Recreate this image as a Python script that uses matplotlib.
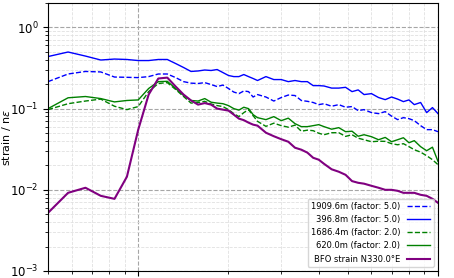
import matplotlib
matplotlib.use("Agg")
import matplotlib.pyplot as plt
import numpy as np

# frequency bins (k / 12) of the spectra
k = np.array([6, 7, 8, 9, 10, 11, 12, 13, 14, 15, 16, 17, 18, 19, 20, 21, 22, 23, 24,
              25, 26, 27, 28, 29, 30, 32, 34, 36, 38, 40, 42, 44, 46, 48, 50, 53, 56,
              59, 62, 65, 68, 72, 76, 80, 84, 88, 92, 96, 100, 105, 110, 115, 120])
freq = k / 12.0

s1909 = [0.215, 0.267, 0.287, 0.283, 0.245, 0.243, 0.241, 0.248, 0.267, 0.267,
         0.241, 0.215, 0.206, 0.204, 0.209, 0.198, 0.187, 0.195, 0.177, 0.160,
         0.153, 0.165, 0.162, 0.139, 0.149, 0.139, 0.124, 0.137, 0.147, 0.145,
         0.126, 0.123, 0.119, 0.112, 0.115, 0.107, 0.112, 0.104, 0.106, 0.0945,
         0.0972, 0.0893, 0.0868, 0.0918, 0.0808, 0.0732, 0.0774, 0.0753, 0.0711, 0.0617,
         0.0551, 0.0551, 0.0520]
s396 = [0.438, 0.498, 0.444, 0.397, 0.408, 0.403, 0.391, 0.391, 0.403, 0.403,
        0.359, 0.321, 0.287, 0.291, 0.299, 0.295, 0.303, 0.278, 0.256, 0.248,
        0.248, 0.263, 0.248, 0.235, 0.222, 0.248, 0.228, 0.228, 0.215, 0.222,
        0.215, 0.215, 0.192, 0.192, 0.190, 0.179, 0.179, 0.183, 0.162, 0.170,
        0.149, 0.153, 0.137, 0.129, 0.139, 0.131, 0.122, 0.128, 0.112, 0.119,
        0.0893, 0.103, 0.0868]
s1686 = [0.0972, 0.115, 0.124, 0.131, 0.107, 0.0972, 0.106, 0.162, 0.204, 0.209,
         0.172, 0.141, 0.117, 0.119, 0.123, 0.114, 0.109, 0.106, 0.0972, 0.0868,
         0.0797, 0.0893, 0.0972, 0.0820, 0.0697, 0.0605, 0.0662, 0.0617, 0.0591, 0.0626,
         0.0527, 0.0543, 0.0535, 0.0498, 0.0477, 0.0505, 0.0505, 0.0455, 0.0477, 0.0432,
         0.0414, 0.0391, 0.0397, 0.0395, 0.0370, 0.0359, 0.0370, 0.0340, 0.0312, 0.0291,
         0.0263, 0.0235, 0.0204]
s620 = [0.100, 0.136, 0.141, 0.133, 0.121, 0.126, 0.128, 0.177, 0.215, 0.217,
        0.177, 0.145, 0.126, 0.124, 0.133, 0.120, 0.117, 0.115, 0.109, 0.100,
        0.0959, 0.104, 0.100, 0.0843, 0.0774, 0.0732, 0.0797, 0.0711, 0.0763, 0.0653,
        0.0600, 0.0600, 0.0617, 0.0635, 0.0600, 0.0558, 0.0583, 0.0520, 0.0527, 0.0457,
        0.0477, 0.0451, 0.0414, 0.0442, 0.0391, 0.0414, 0.0438, 0.0380, 0.0403, 0.0340,
        0.0303, 0.0335, 0.0224]
bfo = [0.00520, 0.00918, 0.0106, 0.00843, 0.00774, 0.0145, 0.0551, 0.149, 0.235, 0.241,
       0.187, 0.149, 0.126, 0.112, 0.117, 0.112, 0.100, 0.0972, 0.0945, 0.0843,
       0.0753, 0.0721, 0.0672, 0.0635, 0.0617, 0.0505, 0.0457, 0.0420, 0.0391, 0.0330,
       0.0312, 0.0287, 0.0248, 0.0235, 0.0209, 0.0179, 0.0167, 0.0153, 0.0128, 0.0122,
       0.0119, 0.0112, 0.0106, 0.0100, 0.0100, 0.00972, 0.00918, 0.00918, 0.00918, 0.00868,
       0.00843, 0.00774, 0.00691]

fig = plt.figure(figsize=(4.54, 2.78), dpi=100)
ax = fig.add_axes([48/454, 7/278, 390/454, 268/278])

ax.plot(freq, s1909, color='b', ls='--', lw=1.0, label='1909.6m (factor: 5.0)')
ax.plot(freq, s396, color='b', ls='-', lw=1.0, label='396.8m (factor: 5.0)')
ax.plot(freq, s1686, color='g', ls='--', lw=1.0, label='1686.4m (factor: 2.0)')
ax.plot(freq, s620, color='g', ls='-', lw=1.0, label='620.0m (factor: 2.0)')
ax.plot(freq, bfo, color='purple', ls='-', lw=1.5, label='BFO strain N330.0°E')

ax.set_xscale('log')
ax.set_yscale('log')
ax.set_xlim(0.5, 10)
ax.set_ylim(1e-3, 2)
ax.set_ylabel('strain / n$\\varepsilon$', fontsize=8)
ax.yaxis.set_label_coords(-0.09, 0.5)
ax.tick_params(labelsize=8.5)
# x tick labels fall below the cropped figure edge
ax.tick_params(axis='x', labelbottom=False)

ax.grid(True, which='major', ls='--', color='0.65', lw=0.8)
ax.grid(True, which='minor', ls='--', color='0.88', lw=0.6)

ax.legend(loc='lower right', fontsize=6, markerfirst=False, handlelength=2.8,
          framealpha=0.8)

fig.savefig('out.png', dpi=100)
